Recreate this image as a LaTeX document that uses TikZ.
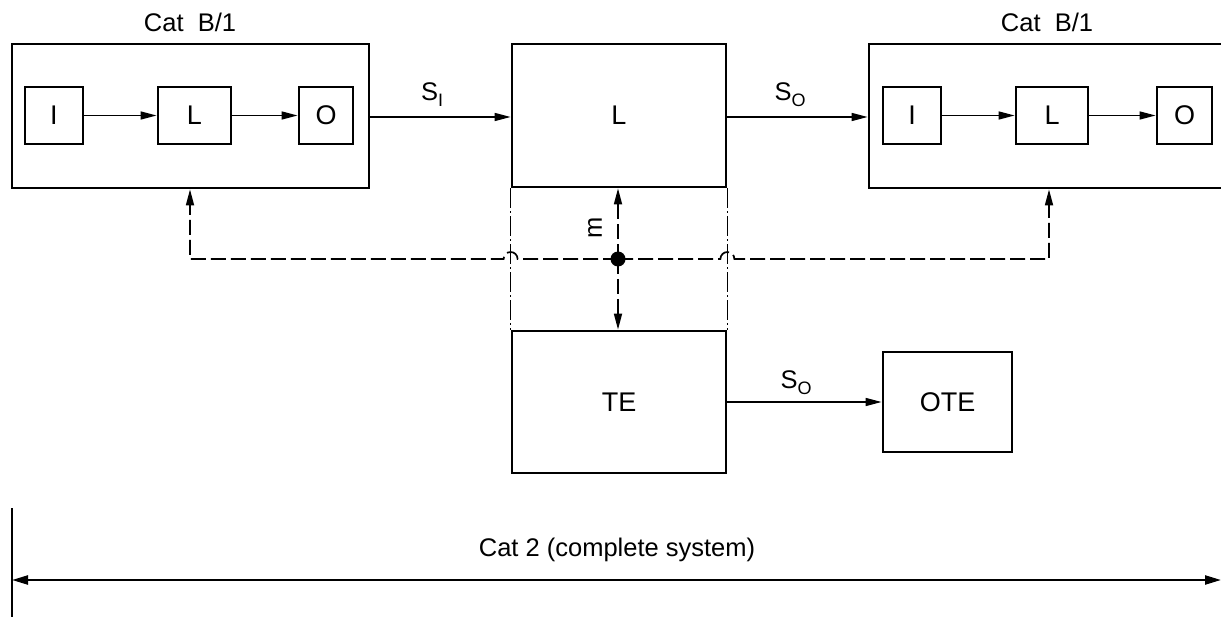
\documentclass[tikz,border=0pt]{standalone}
\usepackage{fontspec}
\setmainfont{Liberation Sans}
\usetikzlibrary{arrows.meta,calc}
\tikzset{
  blk/.style={draw, line width=2.8pt, inner sep=0pt, font=\fontsize{27}{27}\selectfont},
  lbl/.style={inner sep=0pt, font=\fontsize{25.5}{25.5}\selectfont},
  sig/.style={line width=1.5pt, -{Triangle[length=16pt,width=8pt]}},
  ctl/.style={line width=1.7pt, dash pattern=on 15pt off 5pt},
  ctlarrow/.style={ctl, -{Triangle[length=16pt,width=8pt]}},
  dashdotline/.style={line width=1.3pt, dash pattern=on 20pt off 3pt on 2pt off 3pt},
}
\newcommand{\subs}[2]{#1\raisebox{-6pt}{\fontsize{18}{18}\selectfont #2}}
\begin{document}
\begin{tikzpicture}[x=1pt,y=-1pt]
\clip (0,0) rectangle (1221,617);
\fill[white] (0,0) rectangle (1221,617);
% left Cat B/1
\node[blk, minimum width=357pt, minimum height=144pt] (lout) at (190.5,116) {};
\node[lbl] (lcat) at (190,22) {Cat\ \ B/1};
\node[blk, minimum width=58pt, minimum height=57pt] (li) at (54,115.5) {I};
\node[blk, minimum width=73pt, minimum height=57pt] (ll) at (194.5,115.5) {L};
\node[blk, minimum width=54pt, minimum height=57pt] (lo) at (326,115.5) {O};
\draw[sig] (li.east) -- (ll.west);
\draw[sig] (ll.east) -- (lo.west);
% centre L
\node[blk, minimum width=214pt, minimum height=143pt] (cl) at (619,115.5) {L};
% right Cat B/1
\node[blk, minimum width=371pt, minimum height=144pt] (rout) at (1054.5,116) {};
\node[lbl] (rcat) at (1047,22) {Cat\ \ B/1};
\node[blk, minimum width=58pt, minimum height=57pt] (ri) at (912,115.5) {I};
\node[blk, minimum width=72pt, minimum height=57pt] (rl) at (1052,115.5) {L};
\node[blk, minimum width=55pt, minimum height=57pt] (ro) at (1184.5,115.5) {O};
\draw[sig] (ri.east) -- (rl.west);
\draw[sig] (rl.east) -- (ro.west);
% signal arrows
\draw[sig] (lout.east |- 0,117) -- (cl.west |- 0,117);
\node[lbl] (si) at (432,95) {\subs{S}{I}};
\draw[sig] (cl.east |- 0,117) -- (rout.west |- 0,117);
\node[lbl] (so1) at (790,95) {\subs{S}{O}};
% TE and OTE
\node[blk, minimum width=214pt, minimum height=142pt] (te) at (619,402) {TE};
\node[blk, minimum width=129pt, minimum height=100pt] (ote) at (947.5,402) {OTE};
\draw[sig] (te.east) -- (ote.west);
\node[lbl] (so2) at (796,383) {\subs{S}{O}};
% dash-dot lines
\draw[dashdotline] (cl.south west) -- (te.north west);
\draw[dashdotline] (cl.south east) -- (te.north east);
% dot
\node[circle, fill, inner sep=0pt, minimum size=15pt] (dot) at (618,259) {};
\coordinate (hl) at (cl.south west |- dot);
\coordinate (hr) at (cl.south east |- dot);
\coordinate (cl1) at (190,259);
\coordinate (cr1) at (1049,259);
\draw[ctlarrow] (dot.center) -- ($(hl)+(7,0)$) arc[start angle=0, end angle=180, radius=7pt] -- (cl1) -- (lout.south -| cl1);
\draw[ctlarrow] (dot.center) -- ($(hr)+(-7,0)$) arc[start angle=180, end angle=0, radius=7pt] -- (cr1) -- (rout.south -| cr1);
\draw[ctlarrow] (dot.center) -- (cl.south -| dot);
\draw[ctlarrow] (dot.center) -- (te.north -| dot);
\node[lbl, rotate=90] (m) at (595,228) {m};
% Cat 2
\coordinate (b1) at (12,508);
\coordinate (b2) at (12,617);
\coordinate (a1) at (12,580);
\coordinate (a2) at (1221,580);
\draw[line width=1.8pt] (b1) -- (b2);
\draw[line width=2.2pt, {Triangle[length=16pt,width=9pt]}-{Triangle[length=16pt,width=9pt]}] (a1) -- (a2);
\node[lbl] (cat2) at (617,550) {Cat 2 (complete system)};
\end{tikzpicture}
\end{document}
